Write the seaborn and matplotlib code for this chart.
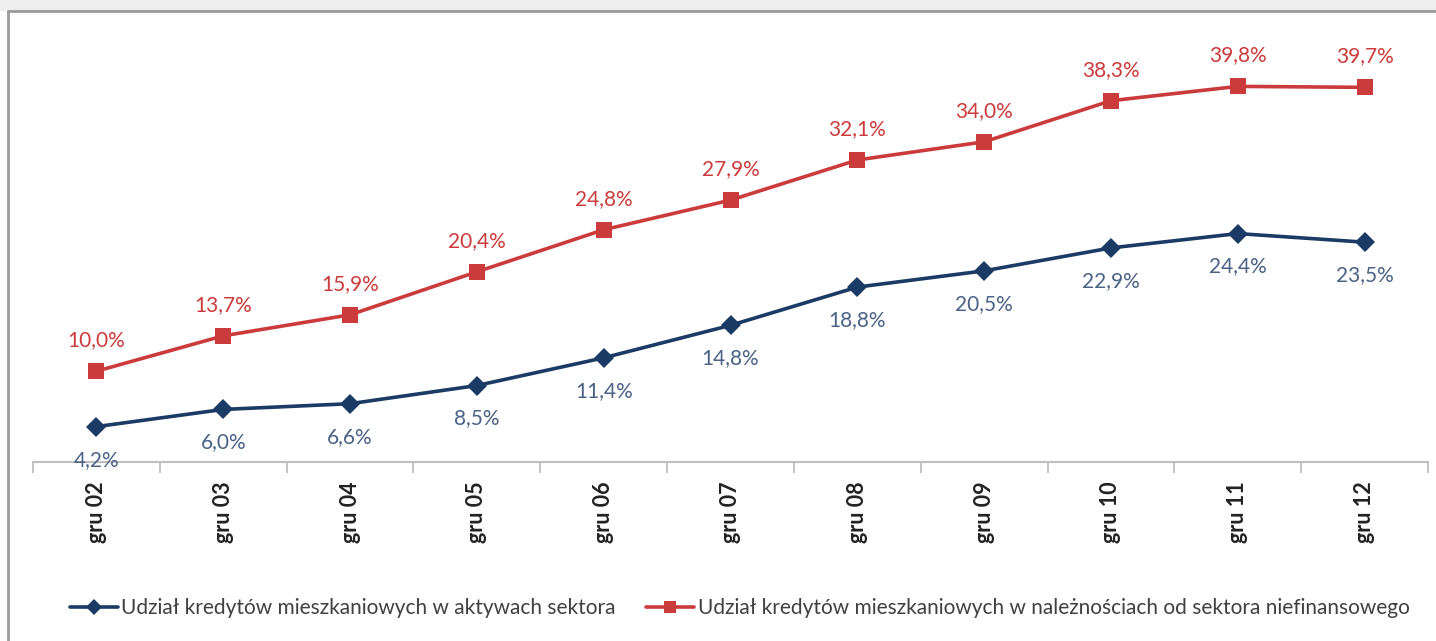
import matplotlib
matplotlib.use("Agg")
import matplotlib.pyplot as plt
import seaborn as sns
import pandas as pd
from matplotlib.lines import Line2D
from matplotlib.patches import Rectangle
from matplotlib.ticker import FixedLocator

categories = ["gru 02", "gru 03", "gru 04", "gru 05", "gru 06", "gru 07",
              "gru 08", "gru 09", "gru 10", "gru 11", "gru 12"]
aktywa = [4.2, 6.0, 6.6, 8.5, 11.4, 14.8, 18.8, 20.5, 22.9, 24.4, 23.5]
naleznosci = [10.0, 13.7, 15.9, 20.4, 24.8, 27.9, 32.1, 34.0, 38.3, 39.8, 39.7]
series_names = ["Udział kredytów mieszkaniowych w aktywach sektora",
                "Udział kredytów mieszkaniowych w należnościach od sektora niefinansowego"]

sns.set_theme(style="white")
plt.rcParams['font.family'] = ['Lato', 'DejaVu Sans']

W, H = 1436, 641
fig = plt.figure(figsize=(W / 100, H / 100), dpi=100)
fig.patch.set_facecolor("white")

# light gray strip above frame
fig.patches.append(Rectangle((0, 1 - 11 / H), 1, 11 / H, transform=fig.transFigure,
                             facecolor="#eeeeee", edgecolor="none", zorder=0))
fig.lines.append(Line2D([8 / W, 8 / W], [0, 1 - 11 / H], transform=fig.transFigure,
                        color="#9a9a9a", lw=2))
fig.lines.append(Line2D([8 / W, 1], [1 - 11 / H, 1 - 11 / H], transform=fig.transFigure,
                        color="#9a9a9a", lw=2))

ax = fig.add_axes([33 / W, 1 - 462 / H, 1395 / W, (462 - 30) / H])
ax.set_facecolor("none")

x = list(range(len(categories)))
df = pd.DataFrame({
    "x": x + x,
    "v": aktywa + naleznosci,
    "s": [series_names[0]] * len(x) + [series_names[1]] * len(x),
})
blue = "#1b3a66"
red = "#cc3b3b"
sns.lineplot(data=df, x="x", y="v", hue="s", style="s", ax=ax,
             palette={series_names[0]: blue, series_names[1]: red},
             markers={series_names[0]: "D", series_names[1]: "s"},
             dashes=False, lw=2.6, markersize=12, markeredgewidth=0,
             legend=True)
for ln in ax.lines:
    if ln.get_marker() == "D":
        ln.set_markersize(10.5)

for xi, v in zip(x, aktywa):
    ax.annotate(f"{v:.1f}%".replace(".", ","), (xi, v), xytext=(0, -33),
                textcoords="offset pixels", ha="center", va="center",
                fontsize=15, color="#4a6285")
for xi, v in zip(x, naleznosci):
    ax.annotate(f"{v:.1f}%".replace(".", ","), (xi, v), xytext=(0, 31),
                textcoords="offset pixels", ha="center", va="center",
                fontsize=15, color="#cc3b3b")

ax.set_xlim(-0.5, len(categories) - 0.5)
ax.set_ylim(0.5, 45.7)
ax.set_xticks(x)
ax.set_xticklabels(categories, rotation=90, fontweight="bold", fontsize=15.5,
                   color="#222222")
ax.xaxis.set_minor_locator(FixedLocator([i - 0.5 for i in range(len(categories) + 1)]))
ax.tick_params(axis="x", which="major", length=0, pad=14)
ax.tick_params(axis="x", which="minor", length=8, width=1.3, color="#bfbfbf",
               direction="out", bottom=True)
ax.set_yticks([])
ax.set_xlabel("")
ax.set_ylabel("")
for sp in ["left", "top", "right"]:
    ax.spines[sp].set_visible(False)
ax.spines["bottom"].set_color("#bfbfbf")
ax.spines["bottom"].set_linewidth(1.5)

handles, labels = ax.get_legend_handles_labels()
leg = ax.legend(handles, labels, loc="center", bbox_to_anchor=(0.515, 1 - 608 / H),
                bbox_transform=fig.transFigure, ncol=2, frameon=False,
                fontsize=15, handlelength=2.3, handletextpad=0.15, columnspacing=1.5,
                labelcolor="#404040")
for h in leg.legend_handles:
    h.set_markersize(8)
    h.set_linewidth(2.6)

fig.savefig("out.png", dpi=100, facecolor="white")
